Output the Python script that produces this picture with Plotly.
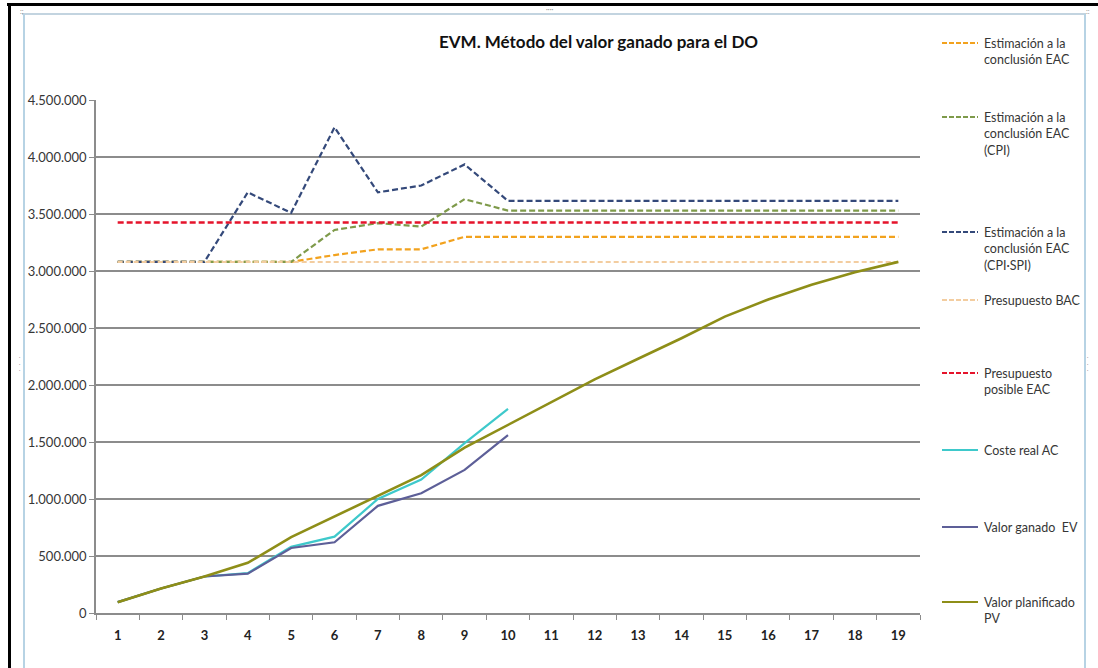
import plotly.graph_objects as go

# Periods (months) of the project
periodos = list(range(1, 20))

# Planned value PV
pv = [95000, 215000, 320000, 440000, 665000, 845000, 1030000, 1210000, 1450000,
      1650000, 1850000, 2050000, 2230000, 2410000, 2600000, 2750000, 2880000,
      2990000, 3080000]
# Actual cost AC (periods 1-10)
ac = [95000, 215000, 320000, 350000, 580000, 670000, 1000000, 1170000, 1490000, 1790000]
# Earned value EV (periods 1-10)
ev = [95000, 215000, 320000, 345000, 570000, 620000, 940000, 1050000, 1255000, 1560000]
# Budget at completion BAC
bac = [3080000, 3080000, 3080000, 3080000, 3080000, 3080000, 3080000, 3080000,
       3080000, 3080000, 3080000, 3080000, 3080000, 3080000, 3080000, 3080000,
       3080000, 3080000, 3080000]
# Possible budget EAC
eac_posible = [3425000, 3425000, 3425000, 3425000, 3425000, 3425000, 3425000,
               3425000, 3425000, 3425000, 3425000, 3425000, 3425000, 3425000,
               3425000, 3425000, 3425000, 3425000, 3425000]
# Estimate at completion EAC
eac = [3080000, 3080000, 3080000, 3080000, 3080000, 3140000, 3190000, 3190000,
       3300000, 3300000, 3300000, 3300000, 3300000, 3300000, 3300000, 3300000,
       3300000, 3300000, 3300000]
# Estimate at completion EAC (CPI)
eac_cpi = [3080000, 3080000, 3080000, 3080000, 3080000, 3360000, 3420000, 3390000,
           3630000, 3530000, 3530000, 3530000, 3530000, 3530000, 3530000, 3530000,
           3530000, 3530000, 3530000]
# Estimate at completion EAC (CPI·SPI)
eac_cpi_spi = [3080000, 3080000, 3080000, 3690000, 3510000, 4260000, 3690000, 3750000,
               3935000, 3615000, 3615000, 3615000, 3615000, 3615000, 3615000, 3615000,
               3615000, 3615000, 3615000]

y_ticks = [0, 500000, 1000000, 1500000, 2000000, 2500000, 3000000, 3500000, 4000000, 4500000]

FONT = "Lato, 'Open Sans', sans-serif"
TXT = "#363636"

series = [
    ("Estimación a la<br>conclusión EAC", eac, "#F2A21E", "6px,3px", 2.2),
    ("Estimación a la<br>conclusión EAC<br>(CPI)", eac_cpi, "#7E9A4A", "6px,3px", 2.2),
    ("Estimación a la<br>conclusión EAC<br>(CPI·SPI)", eac_cpi_spi, "#34497A", "6px,3px", 2.2),
    ("Presupuesto BAC", bac, "#F3CDA0", "5px,3px", 2.0),
    ("Presupuesto<br>posible EAC", eac_posible, "#E5132B", "6px,3px", 2.4),
    ("Coste real AC", ac, "#3EC9CB", None, 2.2),
    ("Valor ganado  EV", ev, "#5D5F98", None, 2.2),
    ("Valor planificado<br>PV", pv, "#8E8E18", None, 2.6),
]

fig = go.Figure()
for name, vals, color, dash, w in series:
    line = dict(color=color, width=w)
    if dash:
        line["dash"] = dash
    fig.add_trace(go.Scatter(x=periodos[:len(vals)], y=vals, mode="lines",
                             name=name.replace("<br>", " "), line=line,
                             showlegend=False, hoverinfo="x+y"))

# plot area geometry in pixels
L, R, T, B = 96, 920, 100, 613
def fx(px):
    return (px - L) / (R - L)
def fy(py):
    return (B - py) / (B - T)

shapes = []
annotations = []

# legend on the right, drawn as samples + labels
legend_pos = [43, 117, 232, 300, 373, 450, 527, 602]
for (name, vals, color, dash, w), ly in zip(series, legend_pos):
    shp = dict(type="line", xref="paper", yref="paper",
               x0=fx(942), x1=fx(978), y0=fy(ly), y1=fy(ly),
               line=dict(color=color, width=2.2))
    if dash:
        shp["line"]["dash"] = "5px,2px"
    shapes.append(shp)
    annotations.append(dict(xref="paper", yref="paper", x=fx(982), y=fy(ly - 9),
                            xanchor="left", yanchor="top", align="left",
                            text=name, showarrow=False,
                            font=dict(family=FONT, size=12.5, color=TXT)))

# chart title
annotations.append(dict(xref="paper", yref="paper", x=fx(437), y=fy(42),
                        xanchor="left", yanchor="middle", showarrow=False,
                        text="<b>EVM. Método del valor ganado para el DO</b>",
                        font=dict(family=FONT, size=17, color="#111111")))

# outer window frame
shapes += [
    dict(type="line", xref="paper", yref="paper", x0=fx(7), x1=fx(1098), y0=fy(4.5), y1=fy(4.5),
         line=dict(color="#000000", width=3)),
    dict(type="line", xref="paper", yref="paper", x0=fx(9.5), x1=fx(9.5), y0=fy(3), y1=fy(668),
         line=dict(color="#000000", width=3)),
    dict(type="line", xref="paper", yref="paper", x0=fx(22), x1=fx(1086), y0=fy(14), y1=fy(14),
         line=dict(color="#AFC6D6", width=1.5)),
    dict(type="line", xref="paper", yref="paper", x0=fx(24), x1=fx(24), y0=fy(14), y1=fy(668),
         line=dict(color="#B7D3E4", width=2)),
    dict(type="line", xref="paper", yref="paper", x0=fx(1085), x1=fx(1085), y0=fy(14), y1=fy(668),
         line=dict(color="#B7D3E4", width=2)),
]
# resize handles
for hx, hy, txt in [(549, 9, "····"), (22, 11, "::"), (1088, 11, "::")]:
    annotations.append(dict(xref="paper", yref="paper", x=fx(hx), y=fy(hy),
                            xanchor="center", yanchor="middle", showarrow=False,
                            text=txt, font=dict(family=FONT, size=7, color="#8a8a8a")))
for hx in (20, 1088):
    annotations.append(dict(xref="paper", yref="paper", x=fx(hx), y=fy(363),
                            xanchor="center", yanchor="middle", showarrow=False,
                            text="·<br>·<br>·", font=dict(family=FONT, size=5, color="#8a8a8a")))

fig.update_layout(
    width=1098, height=668,
    margin=dict(l=L, r=1098 - R, t=T, b=668 - B),
    paper_bgcolor="white", plot_bgcolor="white",
    separators=",.",
    showlegend=False,
    shapes=shapes, annotations=annotations,
    xaxis=dict(range=[0.5, 19.5], tickmode="array", tickvals=periodos,
               ticktext=[str(p) for p in periodos], ticks="", showgrid=False,
               showline=True, linecolor="#8c8c8c", linewidth=1.5, zeroline=False,
               ticklabelstandoff=10,
               tickfont=dict(family=FONT, size=13, color="#222222", weight="bold"),
               minor=dict(tickvals=[p + 0.5 for p in range(0, 20)], ticks="outside",
                          ticklen=5, tickcolor="#8c8c8c", tickwidth=1.2, showgrid=False),
               fixedrange=True),
    yaxis=dict(range=[0, 4500000], tickmode="array", tickvals=y_ticks,
               tickformat=",d", showgrid=True, gridcolor="#8c8c8c", gridwidth=1.5,
               showline=True, linecolor="#8c8c8c", linewidth=1.5, zeroline=False,
               ticks="outside", ticklen=5, tickcolor="#8c8c8c", tickwidth=1.2,
               tickfont=dict(family=FONT, size=13, color=TXT), fixedrange=True),
)

fig.write_html("out.html")
